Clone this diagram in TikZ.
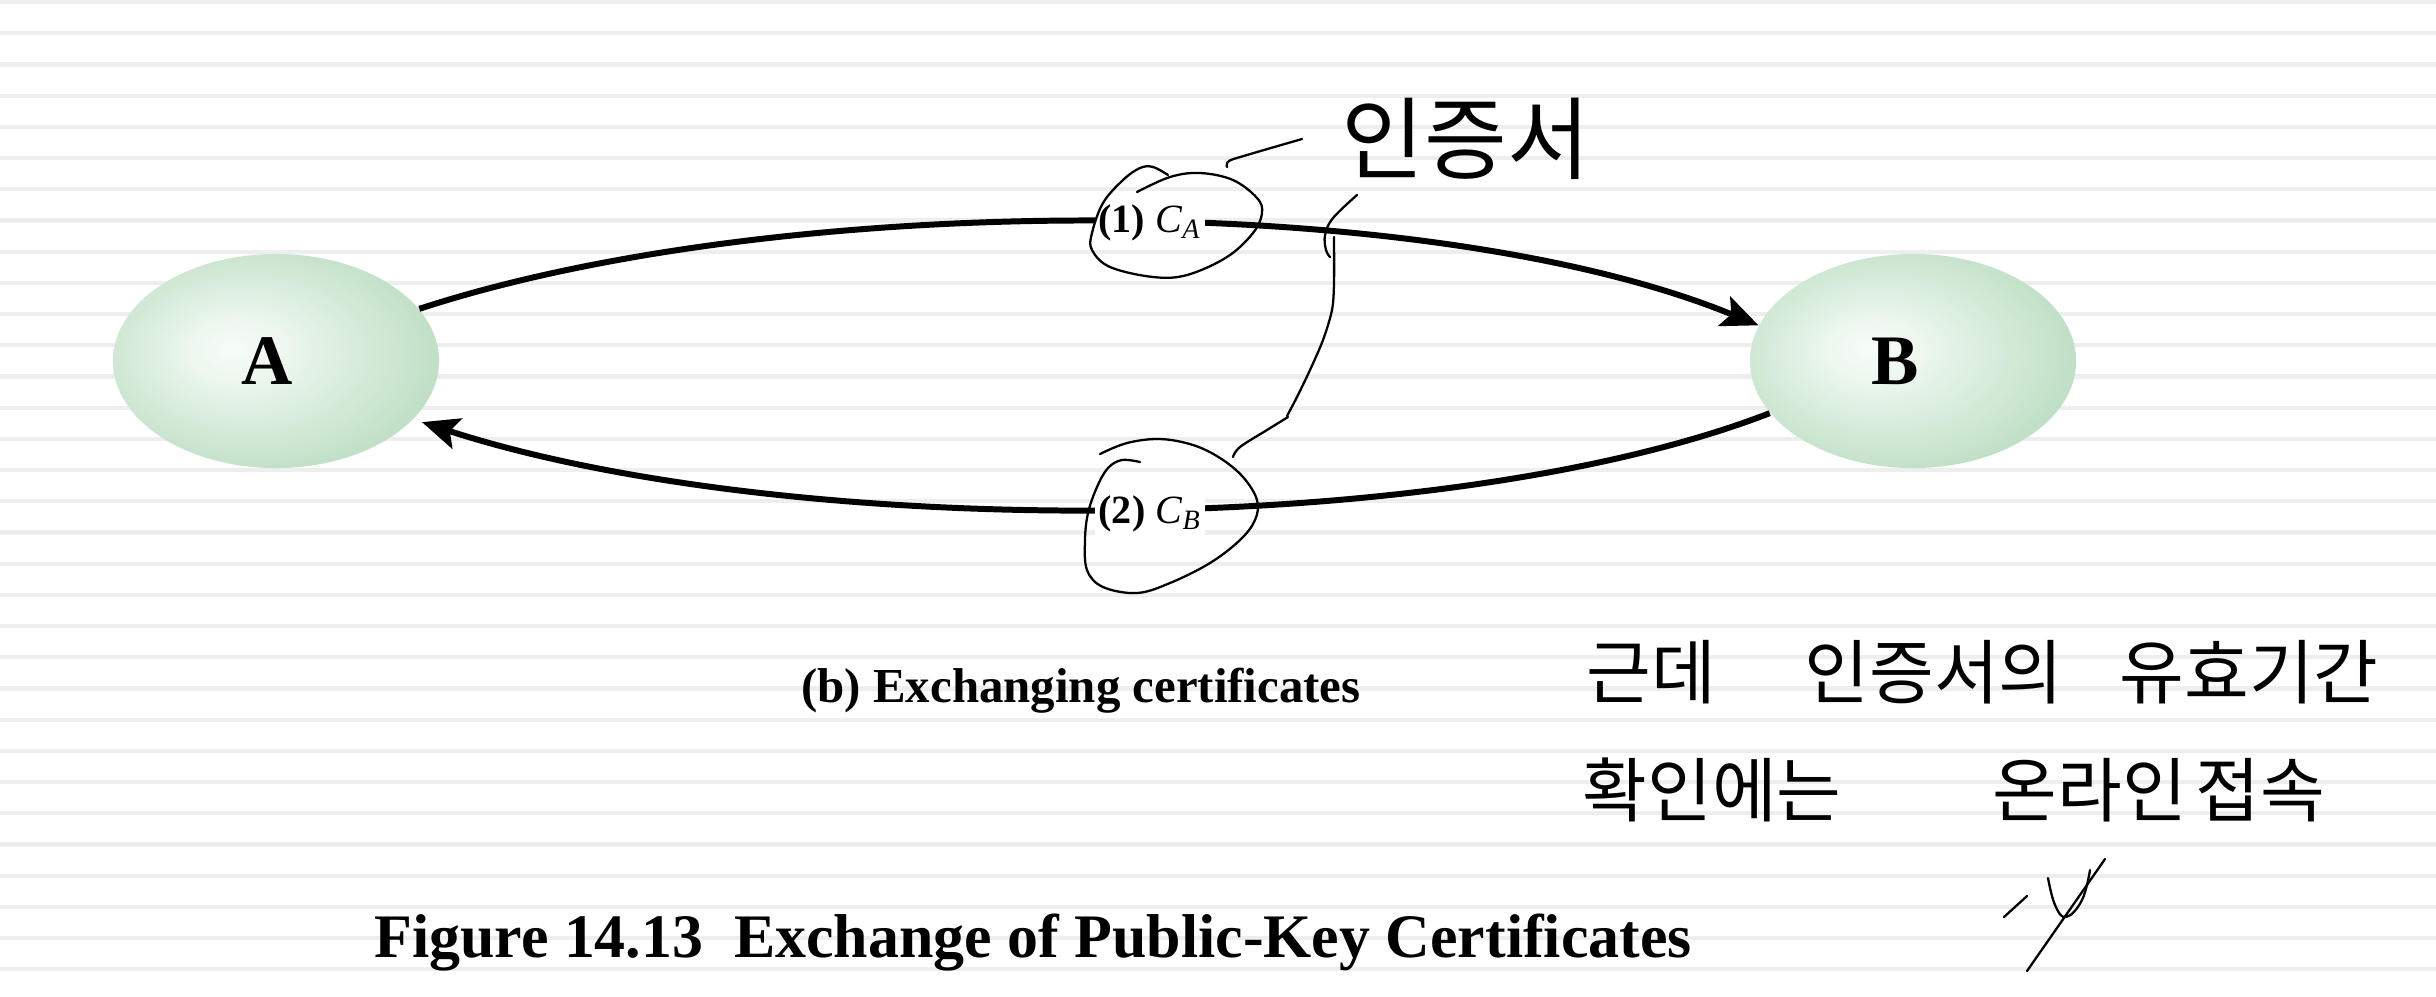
\documentclass[tikz,border=0pt]{standalone}
\usepackage{fontspec}
\setmainfont{Liberation Serif}
\newfontfamily\kofont{Noto Sans CJK KR}
\usetikzlibrary{arrows.meta,shapes.geometric}
\pgfdeclareradialshading{eggshade}{\pgfpoint{-7bp}{3bp}}{rgb(0bp)=(0.97,0.99,0.972); rgb(7bp)=(0.93,0.97,0.935); rgb(27bp)=(0.76,0.88,0.785); rgb(50bp)=(0.57,0.775,0.61)}
\begin{document}
\begin{tikzpicture}[x=0.01cm,y=-0.01cm,
  rule/.style={line width=1.2pt,color={rgb,255:red,238;green,238;blue,238}},
  party/.style={ellipse,draw=none,shading=eggshade,minimum width=3.26cm,minimum height=2.14cm,inner sep=0pt},
  partytext/.style={inner sep=0pt,font=\fontsize{20.2}{22}\selectfont\bfseries},
  conn/.style={line width=1.7pt,-{Stealth[length=10.5pt,width=9pt,inset=2.2pt]}},
  lab/.style={fill=white,inner sep=1pt,font=\fontsize{11.4}{13}\selectfont},
  capsub/.style={anchor=base,inner sep=0pt,font=\fontsize{13.9}{16}\selectfont\bfseries},
  capfig/.style={anchor=base,inner sep=0pt,font=\fontsize{17.6}{20}\selectfont\bfseries},
  hand/.style={line width=0.65pt,line cap=round,line join=round},
  kobig/.style={inner sep=0pt,font=\kofont\fontsize{25.6}{28}\selectfont},
  kotxt/.style={inner sep=0pt,font=\kofont\fontsize{20}{22}\selectfont}]
\useasboundingbox (0,0) rectangle (2436,996);
\fill[white] (0,0) rectangle (2436,996);
\foreach \k in {0,...,31} { \draw[rule] (0,2+31.2*\k) -- (2436,2+31.2*\k); }

\node[party] (A) at (276,361) {};
\node[party] (B) at (1913,361) {};
\node[partytext] (At) at (267,361) {A};
\node[partytext] (Bt) at (1895,361) {B};

\draw[conn] (A.20) .. controls (782,190) and (1429,190) .. (B.167);
\draw[conn,shorten >=2.5pt] (B.200) .. controls (1442,540) and (785,540) .. (A.-23);

\node[lab] (l1) at (1150,223) {\textbf{(1)} \textit{C}\textsubscript{\textit{A}}};
\node[lab] (l2) at (1150,514) {\textbf{(2)} \textit{C}\textsubscript{\textit{B}}};

\node[capsub] (capb) at (1081,702) {(b) Exchanging certificates};
\node[capfig] (fig) at (1033,957) {Figure 14.13\ \ Exchange of Public-Key Certificates};

% handwritten annotations
\node[kobig] (cert) at (1466,139) {인증서};
\draw[hand] plot[smooth,tension=0.6] coordinates {(1137,192) (1170,177) (1200,173) (1233,180) (1257,198) (1262,213) (1253,233) (1227,257) (1187,275) (1153,277) (1110,267) (1092,250) (1092,233) (1103,203) (1123,180) (1140,168) (1153,167) (1168,175)};
\draw[hand] plot[smooth,tension=0.6] coordinates {(1227,167) (1229,161) (1247,155) (1302,139)};
\draw[hand] plot[smooth,tension=0.6] coordinates {(1357,195) (1333,218) (1325,235) (1326,250) (1330,257)};
\draw[hand] plot[smooth,tension=0.5] coordinates {(1334,237) (1334,283) (1332,310) (1323,340) (1310,370) (1297,397) (1287,416)};
\draw[hand] plot[smooth,tension=0.6] coordinates {(1288,417) (1267,430) (1240,447) (1233,457)};
\draw[hand] plot[smooth,tension=0.6] coordinates {(1100,454) (1127,443) (1160,439) (1193,445) (1220,458) (1243,477) (1257,500) (1255,520) (1240,540) (1210,563) (1170,583) (1137,593) (1103,587) (1087,570) (1085,540) (1088,513) (1097,487) (1108,468) (1122,460) (1140,462)};

\node[kotxt] (w1) at (1651,672) {근데};
\node[kotxt] (w2) at (1934,672) {인증서의};
\node[kotxt] (w3) at (2249,672) {유효기간};
\node[kotxt] (w4) at (1712,790) {확인에는};
\node[kotxt] (w5) at (2090,790) {온라인};
\node[kotxt] (w6) at (2260,790) {접속};

\draw[hand] (2004,917) -- (2027,896);
\draw[hand] plot[smooth,tension=0.7] coordinates {(2048,878) (2055,905) (2066,917) (2082,900) (2090,870)};
\draw[hand] (2105,859) -- (2027,971);
\end{tikzpicture}
\end{document}
